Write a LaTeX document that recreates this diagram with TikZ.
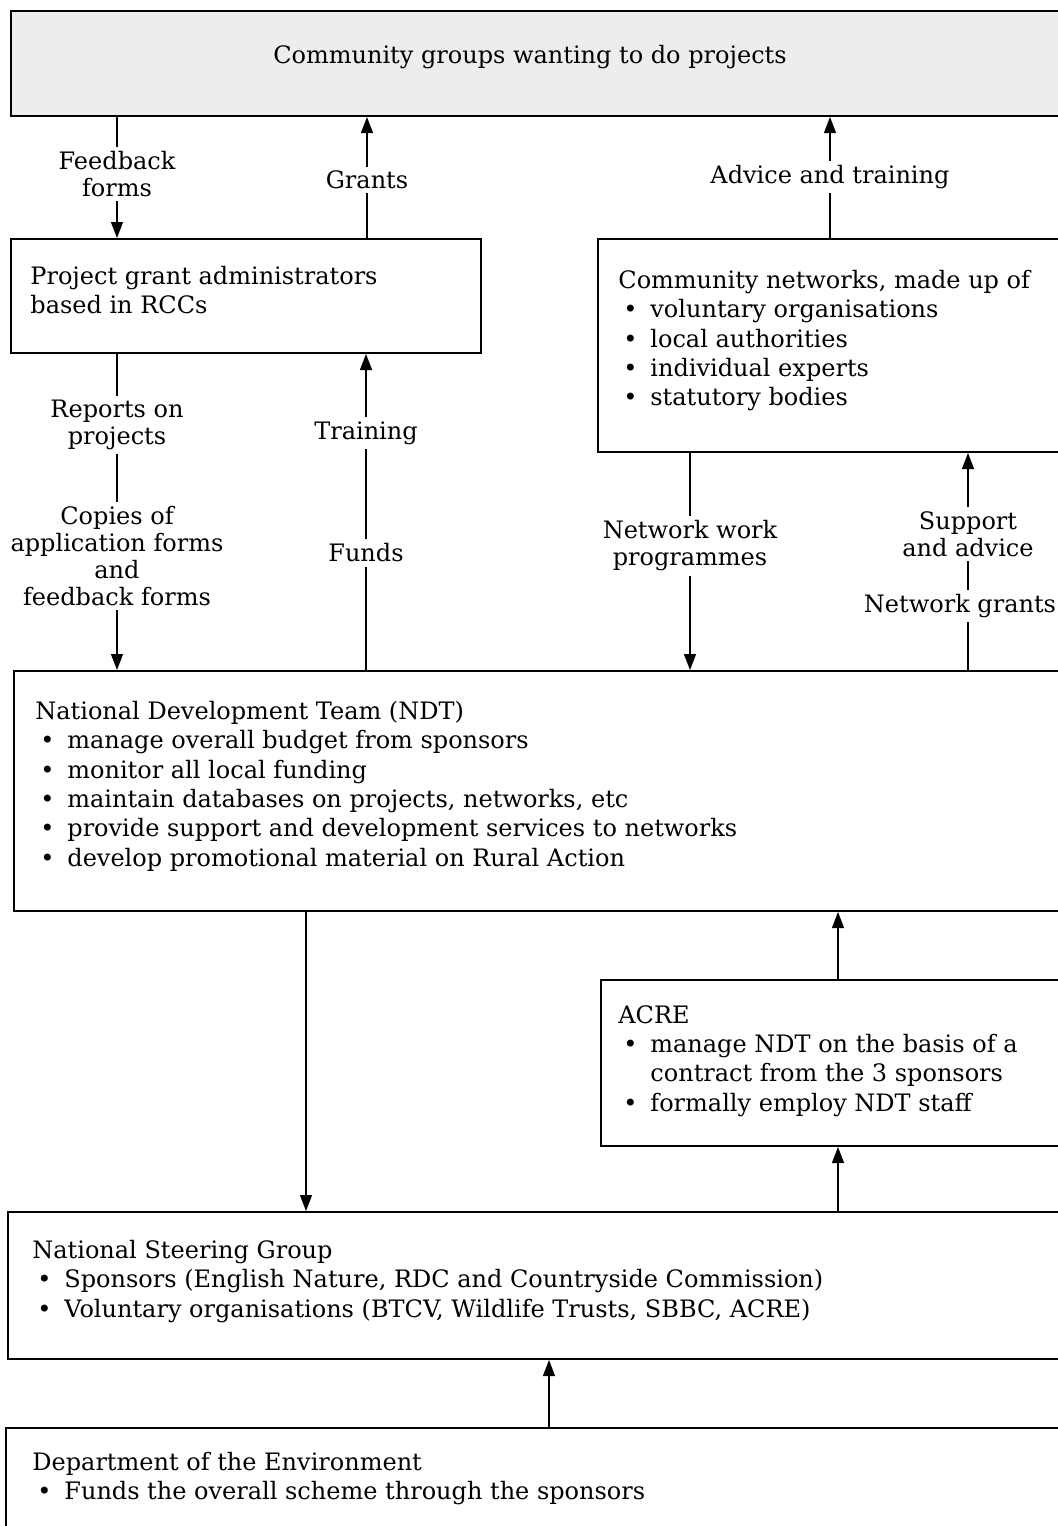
\documentclass[tikz,border=0pt]{standalone}
\usepackage{fontspec}
\setmainfont{DejaVu Serif}
\usetikzlibrary{arrows.meta}

\newcommand{\bul}{\makebox[16pt][l]{\hspace{2.5pt}\textbullet}}
\newcommand{\ind}{\hspace*{16pt}}

\begin{document}
\begin{tikzpicture}[x=0.5pt, y=-0.5pt,
  every node/.style={font=\fontsize{12}{14.65}\selectfont},
  box/.style={draw, line width=1pt, inner sep=0pt, anchor=north west},
  txt/.style={inner sep=0pt, anchor=north west, align=left},
  lbl/.style={inner sep=2pt, align=center, font=\fontsize{12}{13.5}\selectfont},
  conn/.style={line width=0.6pt},
  arr/.style={conn, -{Triangle[length=8pt,width=6pt]}}]

  \useasboundingbox (0,0) rectangle (1058,1526);

  % Boxes (right side runs off the page)
  \node[box, fill=black!7, minimum width=530pt, minimum height=52.5pt] (groups) at (10,10) {};
  \node[box, minimum width=235pt, minimum height=57pt] (admin) at (10,238) {};
  \node[box, minimum width=240pt, minimum height=106.5pt] (networks) at (597,238) {};
  \node[box, minimum width=530pt, minimum height=120pt] (ndt) at (13,670) {};
  \node[box, minimum width=235pt, minimum height=83pt] (acre) at (600,979) {};
  \node[box, minimum width=530pt, minimum height=73.5pt] (nsg) at (7,1211) {};
  \node[box, minimum width=530pt, minimum height=60pt] (doe) at (5,1427) {};

  % Box texts
  \node (groupstxt) at (530,57) {Community groups wanting to do projects};
  \node[txt] (admintxt) at (30,266) {Project grant administrators\\based in RCCs};
  \node[txt] (networkstxt) at (618,270) {Community networks, made up of\\
    \bul voluntary organisations\\ \bul local authorities\\
    \bul individual experts\\ \bul statutory bodies};
  \node[txt] (ndttxt) at (35,701) {National Development Team (NDT)\\
    \bul manage overall budget from sponsors\\
    \bul monitor all local funding\\
    \bul maintain databases on projects, networks, etc\\
    \bul provide support and development services to networks\\
    \bul develop promotional material on Rural Action};
  \node[txt] (acretxt) at (618,1005) {ACRE\\
    \bul manage NDT on the basis of a\\ \ind contract from the 3 sponsors\\
    \bul formally employ NDT staff};
  \node[txt] (nsgtxt) at (32,1240) {National Steering Group\\
    \bul Sponsors (English Nature, RDC and Countryside Commission)\\
    \bul Voluntary organisations (BTCV, Wildlife Trusts, SBBC, ACRE)};
  \node[txt] (doetxt) at (32,1452) {Department of the Environment\\
    \bul Funds the overall scheme through the sponsors};

  % Connector labels
  \node[lbl] (feedback) at (117,174) {Feedback\\forms};
  \node[lbl] (grants) at (367,180) {Grants};
  \node[lbl] (advice) at (830,177) {Advice and training};
  \node[lbl] (reports) at (117,425) {Reports on\\projects};
  \node[lbl] (copies) at (117,556) {Copies of\\application forms\\and\\feedback forms};
  \node[lbl] (training) at (366,433) {Training};
  \node[lbl] (funds) at (366,553) {Funds};
  \node[lbl] (workprog) at (690,546) {Network work\\programmes};
  \node[lbl] (support) at (968,534) {Support\\and advice};
  \node[lbl] (netgrants) at (960,606) {Network grants};

  % Stems between the lower boxes
  \coordinate (ndtstem) at (306,0);
  \coordinate (acrestem) at (838,0);
  \coordinate (doestem) at (549,0);

  % Connectors
  \draw[conn] (groups.south -| feedback) -- (feedback);
  \draw[arr] (feedback) -- (admin.north -| feedback);
  \draw[conn] (admin.north -| grants) -- (grants);
  \draw[arr] (grants) -- (groups.south -| grants);
  \draw[conn] (networks.north -| advice) -- (advice);
  \draw[arr] (advice) -- (groups.south -| advice);

  \draw[conn] (admin.south -| reports) -- (reports);
  \draw[conn] (reports) -- (copies);
  \draw[arr] (copies) -- (ndt.north -| copies);
  \draw[conn] (ndt.north -| funds) -- (funds);
  \draw[conn] (funds) -- (training);
  \draw[arr] (training) -- (admin.south -| training);

  \draw[conn] (networks.south -| workprog) -- (workprog);
  \draw[arr] (workprog) -- (ndt.north -| workprog);
  \draw[conn] (ndt.north -| support) -- (netgrants.south -| support);
  \draw[conn] (netgrants.north -| support) -- (support);
  \draw[arr] (support) -- (networks.south -| support);

  \draw[arr] (ndt.south -| ndtstem) -- (nsg.north -| ndtstem);
  \draw[arr] (acre.north -| acrestem) -- (ndt.south -| acrestem);
  \draw[arr] (nsg.north -| acrestem) -- (acre.south -| acrestem);
  \draw[arr] (doe.north -| doestem) -- (nsg.south -| doestem);

\end{tikzpicture}
\end{document}
